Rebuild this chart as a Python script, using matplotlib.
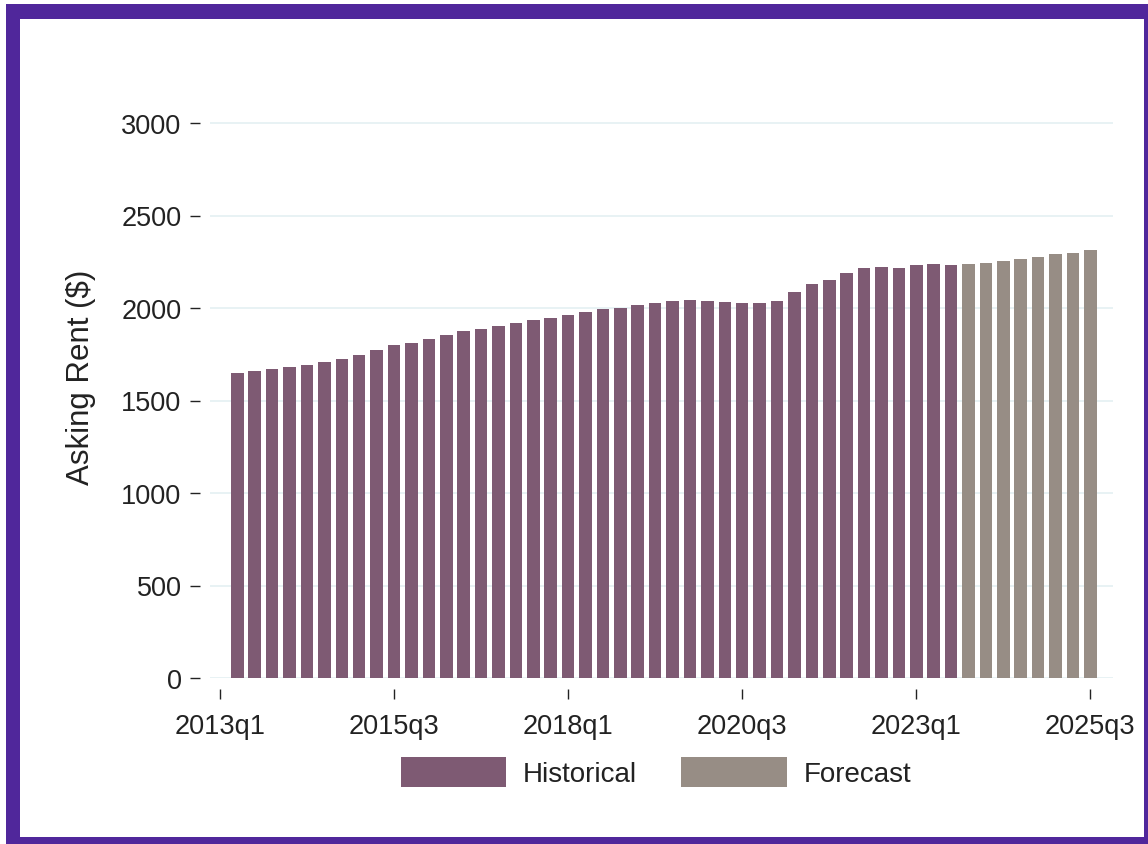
import matplotlib
matplotlib.use("Agg")
import matplotlib.pyplot as plt
from matplotlib.patches import Rectangle, Patch
import pandas as pd

plt.rcParams["font.family"] = ["Liberation Sans", "DejaVu Sans"]

# Quarterly average asking rent ($)
first_quarter = "2013Q2"
historical = [1647, 1659, 1670, 1681, 1692, 1708, 1724, 1746, 1771, 1798,
              1813, 1832, 1852, 1874, 1885, 1905, 1921, 1937, 1946, 1964,
              1981, 1993, 2002, 2015, 2029, 2040, 2043, 2040, 2033, 2025,
              2025, 2038, 2085, 2132, 2152, 2189, 2217, 2224, 2217, 2233,
              2240, 2235]
forecast = [2236, 2244, 2253, 2265, 2278, 2290, 2298, 2312]
tick_labels = ["2013q1", "2015q3", "2018q1", "2020q3", "2023q1", "2025q3"]
y_ticks = [0, 500, 1000, 1500, 2000, 2500, 3000]

HIST_COLOR = "#7e5a73"
FCST_COLOR = "#978d85"
FRAME_COLOR = "#50279b"
GRID_COLOR = "#e6f1f3"
TEXT_COLOR = "#222222"

W, H = 1148, 845
fig = plt.figure(figsize=(W / 100, H / 100), dpi=100, facecolor="white")

# Purple frame around the figure
fig.patches.append(Rectangle((6 / W, 0), 1 - 6 / W, 1 - 5 / H, transform=fig.transFigure,
                             facecolor=FRAME_COLOR, edgecolor="none", zorder=-3))
fig.patches.append(Rectangle((20 / W, 7 / H), (1144 - 20) / W, (838 - 20) / H,
                             transform=fig.transFigure, facecolor="white",
                             edgecolor="none", zorder=-2))

# Quarter positions measured from 2013q1
base = pd.Period("2013Q1", freq="Q")
start = pd.Period(first_quarter, freq="Q")
n_hist, n_fcst = len(historical), len(forecast)
x_hist = [(start + i - base).n for i in range(n_hist)]
x_fcst = [(start + n_hist + i - base).n for i in range(n_fcst)]
tick_pos = [(pd.Period(t.upper(), freq="Q") - base).n for t in tick_labels]

left_px, right_px = 210, 1113
zero_px, top_px = 679, 114.75
ax = fig.add_axes([left_px / W, 1 - zero_px / H, (right_px - left_px) / W,
                   (zero_px - top_px) / H])
ax.set_zorder(1)
ax.set_facecolor("none")

ax.bar(x_hist, historical, width=0.72, color=HIST_COLOR, zorder=3, label="Historical")
ax.bar(x_fcst, forecast, width=0.72, color=FCST_COLOR, zorder=3, label="Forecast")

ax.set_xlim(-0.57, 51.3)
ax.set_ylim(0, 3050)
ax.set_yticks(y_ticks)
ax.set_yticklabels([str(v) for v in y_ticks])
ax.set_xticks(tick_pos)
ax.set_xticklabels(tick_labels)

ax.yaxis.grid(True, color=GRID_COLOR, linewidth=1.3, zorder=0)
ax.xaxis.grid(False)

for side in ("top", "right"):
    ax.spines[side].set_visible(False)
ax.spines["left"].set_position(("outward", 7))
ax.spines["bottom"].set_position(("outward", 8))
ax.spines["left"].set_visible(False)
ax.spines["bottom"].set_visible(False)

ax.tick_params(axis="y", length=7.5, width=1.0, color=TEXT_COLOR, pad=6,
               labelsize=19.5, labelcolor=TEXT_COLOR)
ax.tick_params(axis="x", length=7.2, width=1.0, color=TEXT_COLOR, pad=10,
               labelsize=19.5, labelcolor=TEXT_COLOR)

fig.text(81 / W, 1 - 377 / H, "Asking Rent ($)", rotation=90, ha="center", va="center",
         fontsize=22.5, color=TEXT_COLOR)

handles = [Patch(facecolor=HIST_COLOR, edgecolor="none"),
           Patch(facecolor=FCST_COLOR, edgecolor="none")]
fig.legend(handles, ["Historical", "Forecast"], loc="center",
           bbox_to_anchor=(656 / W, 1 - 773 / H), ncol=2, frameon=False,
           fontsize=20, handlelength=3.8, handleheight=1.28,
           handletextpad=0.6, columnspacing=1.6, labelcolor=TEXT_COLOR)

fig.savefig("out.png", dpi=100, facecolor="white")
